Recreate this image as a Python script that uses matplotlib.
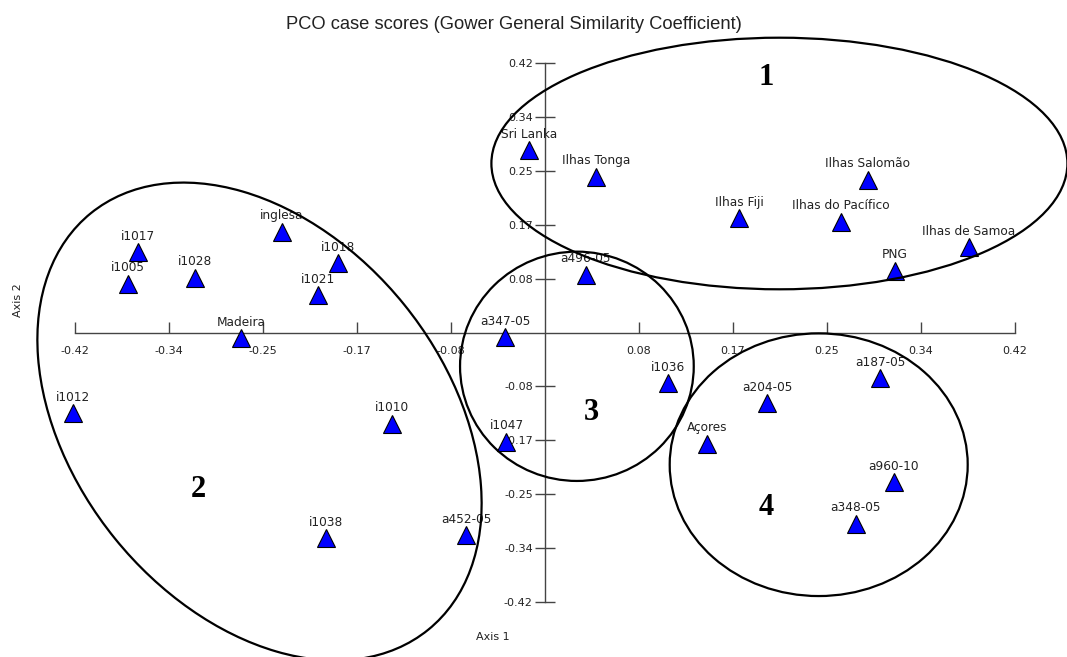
"""
PCO case scores (Gower General Similarity Coefficient)
Scatter of the first two PCO axes with the four hand-drawn groups.
"""

import matplotlib
matplotlib.use("Agg")
import matplotlib.pyplot as plt
from matplotlib.patches import Ellipse

# ── Data ──────────────────────────────────────────────────────────────────────

case_names = [
    "Sri Lanka", "Ilhas Tonga", "Ilhas Fiji", "Ilhas do Pacífico", "Ilhas Salomão",
    "Ilhas de Samoa", "PNG", "a496-05",
    "i1017", "i1005", "i1028", "inglesa", "i1018", "i1021", "Madeira",
    "i1012", "i1010", "i1038", "a452-05",
    "a347-05", "i1047", "i1036",
    "a204-05", "Açores", "a187-05", "a960-10", "a348-05",
]
axis1_scores = [
    -0.014, 0.046, 0.174, 0.265, 0.289,
    0.379, 0.313, 0.037,
    -0.363, -0.372, -0.312, -0.235, -0.185, -0.202, -0.271,
    -0.421, -0.136, -0.195, -0.070,
    -0.035, -0.034, 0.110,
    0.199, 0.145, 0.300, 0.312, 0.278,
]
axis2_scores = [
    0.284, 0.243, 0.178, 0.173, 0.238,
    0.133, 0.096, 0.090,
    0.125, 0.076, 0.085, 0.157, 0.108, 0.058, -0.009,
    -0.126, -0.142, -0.321, -0.316,
    -0.007, -0.170, -0.079,
    -0.110, -0.173, -0.071, -0.233, -0.298,
]

group_names = ["1", "2", "3", "4"]
group_x = [0.198, -0.309, 0.042, 0.198]
group_y = [0.397, -0.245, -0.124, -0.272]

tick_values = [-0.42, -0.336, -0.252, -0.168, -0.084, 0.084, 0.168, 0.252, 0.336, 0.42]
tick_labels = ["-0.42", "-0.34", "-0.25", "-0.17", "-0.08", "0.08", "0.17", "0.25", "0.34", "0.42"]

AXIS_COLOR = "#444444"

# ── Figure and axes (axes cross at the origin) ───────────────────────────────

fig = plt.figure(figsize=(10.67, 6.57), dpi=100)
ax = fig.add_axes([0, 0, 1, 1])
ax.set_xlim(-0.4866, 0.4669)
ax.set_ylim(-0.5057, 0.5182)

for side in ["top", "right"]:
    ax.spines[side].set_visible(False)
for side in ["left", "bottom"]:
    ax.spines[side].set_position(("data", 0))
    ax.spines[side].set_bounds(-0.42, 0.42)
    ax.spines[side].set_color(AXIS_COLOR)
    ax.spines[side].set_linewidth(1.0)

ax.set_xticks(tick_values)
ax.set_xticklabels(tick_labels)
ax.set_yticks(tick_values)
ax.set_yticklabels(tick_labels)
ax.tick_params(axis="x", direction="in", length=8, width=1, color=AXIS_COLOR,
               pad=10, labelsize=8, labelcolor="#222222")
ax.tick_params(axis="y", direction="inout", length=15, width=1, color=AXIS_COLOR,
               pad=1, labelsize=8, labelcolor="#222222")

# ── Points and labels ────────────────────────────────────────────────────────

ax.plot(axis1_scores, axis2_scores, linestyle="none", marker="^", markersize=12.5,
        markerfacecolor="#0000ff", markeredgecolor="black", markeredgewidth=0.8,
        zorder=5)
for name, x, y in zip(case_names, axis1_scores, axis2_scores):
    ax.annotate(name, (x, y), xytext=(0, 9), textcoords="offset points",
                ha="center", va="baseline", fontsize=8.7, color="#222222", zorder=6)

# ── Group outlines (drawn by hand in the original, placed in inches) ─────────

outlines = [
    ((7.794, 4.935), 5.76, 2.516, 0),
    ((2.595, 2.355), 5.36, 3.72, -51),
    ((5.769, 2.907), 2.337, 2.293, 0),
    ((8.187, 1.923), 2.98, 2.627, 0),
]
for centre, w, h, ang in outlines:
    ax.add_patch(Ellipse(centre, w, h, angle=ang, transform=fig.dpi_scale_trans,
                         fill=False, edgecolor="black", linewidth=1.6, zorder=7))

for g, x, y in zip(group_names, group_x, group_y):
    ax.text(x, y, g, ha="center", va="center", fontsize=22, fontweight="bold",
            family="Liberation Serif", zorder=8)

# ── Titles ───────────────────────────────────────────────────────────────────

ax.text(0.482, 0.962, "PCO case scores (Gower General Similarity Coefficient)",
        transform=ax.transAxes, ha="center", va="center", fontsize=13.2,
        family="Liberation Sans", color="#222222")
ax.text(0.462, 0.031, "Axis 1", transform=ax.transAxes, ha="center", va="center",
        fontsize=8, color="#222222")
ax.text(0.017, 0.543, "Axis 2", transform=ax.transAxes, ha="center", va="center",
        rotation=90, fontsize=8, color="#222222")

fig.savefig("out.png", dpi=100)
